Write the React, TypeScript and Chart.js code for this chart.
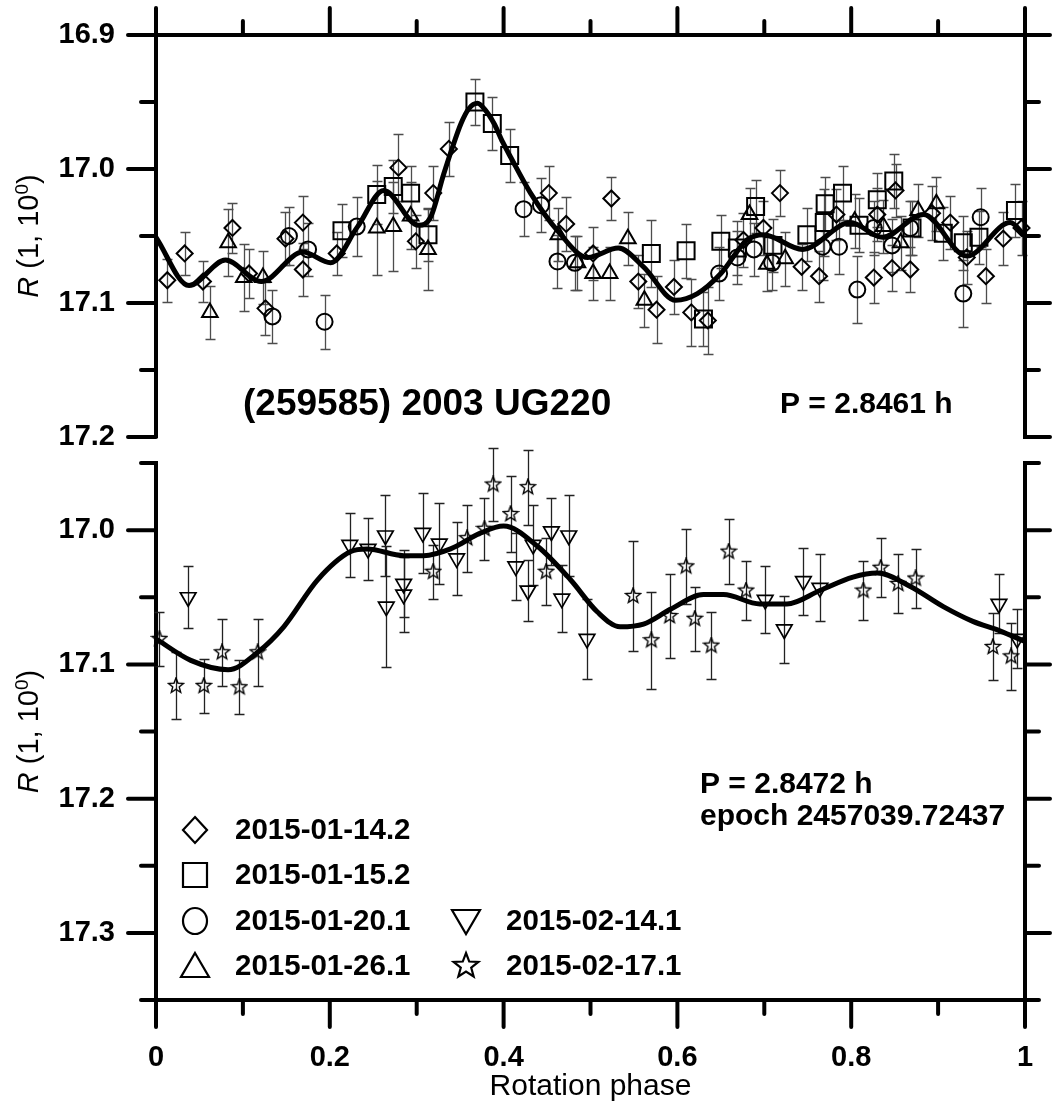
import React, { useEffect, useRef } from 'react';
import { Chart, registerables } from 'chart.js';
Chart.register(...registerables);

const W = 1053;
const H = 1111;
const FONT = "'Liberation Sans', Arial, Helvetica, sans-serif";

// ---------- legend / series names ----------
const seriesNames = ['2015-01-14.2', '2015-01-15.2', '2015-01-20.1', '2015-01-26.1', '2015-02-14.1', '2015-02-17.1'];

// ---------- top panel ----------
const d1Phase = [0.013,0.033,0.054,0.088,0.107,0.126,0.149,0.169,0.169,0.208,0.279,0.299,0.319,0.337,0.452,0.472,0.503,0.524,0.555,0.576,0.596,0.616,0.635,0.676,0.699,0.718,0.743,0.763,0.783,0.826,0.830,0.847,0.851,0.868,0.893,0.914,0.933,0.955,0.975,0.996];
const d1Mag = [17.083,17.063,17.084,17.044,17.078,17.104,17.052,17.040,17.075,17.063,16.999,17.054,17.018,16.985,17.018,17.041,17.063,17.022,17.084,17.105,17.088,17.107,17.113,17.053,17.044,17.018,17.073,17.080,17.034,17.081,17.034,17.074,17.016,17.075,17.033,17.040,17.066,17.080,17.052,17.044];
const d1Err = [0.016,0.016,0.015,0.019,0.018,0.02,0.02,0.02,0.02,0.016,0.025,0.02,0.02,0.02,0.02,0.02,0.02,0.016,0.02,0.025,0.02,0.025,0.025,0.02,0.02,0.017,0.017,0.019,0.019,0.019,0.02,0.017,0.02,0.017,0.02,0.02,0.02,0.02,0.02,0.02];

const d2Phase = [0.214,0.254,0.273,0.293,0.313,0.367,0.387,0.407,0.570,0.610,0.630,0.650,0.669,0.690,0.710,0.749,0.769,0.770,0.790,0.809,0.830,0.849,0.870,0.906,0.929,0.947,0.989];
const d2Mag = [17.046,17.019,17.013,17.018,17.049,16.950,16.966,16.990,17.063,17.061,17.112,17.054,17.059,17.028,17.057,17.049,17.040,17.026,17.018,17.042,17.023,17.009,17.044,17.048,17.055,17.051,17.031];
const d2Err = [0.02,0.022,0.02,0.02,0.02,0.017,0.02,0.02,0.025,0.02,0.02,0.02,0.02,0.02,0.02,0.02,0.025,0.02,0.02,0.02,0.02,0.02,0.02,0.02,0.02,0.02,0.02];

const d3Phase = [0.134,0.153,0.175,0.194,0.231,0.423,0.443,0.462,0.482,0.648,0.669,0.688,0.709,0.767,0.786,0.807,0.826,0.847,0.868,0.929,0.949];
const d3Mag = [17.110,17.050,17.060,17.114,17.043,17.030,17.027,17.069,17.070,17.078,17.066,17.060,17.070,17.058,17.058,17.090,17.044,17.057,17.044,17.093,17.036];
const d3Err = [0.02,0.022,0.02,0.02,0.022,0.02,0.02,0.02,0.02,0.02,0.02,0.02,0.02,0.025,0.02,0.025,0.02,0.02,0.02,0.025,0.022];

const d4Phase = [0.062,0.083,0.101,0.123,0.254,0.273,0.293,0.313,0.463,0.485,0.503,0.522,0.543,0.562,0.683,0.703,0.724,0.804,0.837,0.857,0.877,0.898];
const d4Mag = [17.107,17.055,17.081,17.081,17.044,17.043,17.035,17.060,17.049,17.070,17.078,17.078,17.052,17.098,17.034,17.071,17.067,17.039,17.043,17.055,17.031,17.026];
const d4Err = [0.02,0.025,0.025,0.02,0.035,0.033,0.025,0.03,0.02,0.02,0.02,0.02,0.02,0.02,0.02,0.02,0.02,0.02,0.02,0.02,0.02,0.02];

const fitTopPhase = [0,0.038,0.080,0.121,0.169,0.201,0.232,0.262,0.302,0.316,0.331,0.340,0.351,0.360,0.370,0.379,0.389,0.399,0.408,0.431,0.462,0.497,0.532,0.561,0.598,0.623,0.650,0.680,0.699,0.744,0.799,0.836,0.883,0.933,0.983,1.0];
const fitTopMag = [17.051,17.087,17.068,17.084,17.062,17.070,17.043,17.016,17.042,17.036,17.004,16.986,16.966,16.955,16.951,16.956,16.966,16.980,16.991,17.018,17.046,17.066,17.059,17.073,17.098,17.093,17.078,17.053,17.049,17.060,17.040,17.051,17.034,17.065,17.040,17.050];

// ---------- bottom panel ----------
const d5Phase = [0.037,0.223,0.244,0.264,0.265,0.285,0.285,0.307,0.326,0.346,0.414,0.428,0.434,0.455,0.467,0.475,0.496,0.701,0.723,0.745,0.764,0.970,0.991];
const d5Mag = [17.050,17.011,17.014,17.004,17.057,17.040,17.048,17.002,17.010,17.021,17.027,17.045,17.011,17.001,17.051,17.004,17.081,17.052,17.074,17.038,17.043,17.055,17.081];
const d5Err = [0.023,0.024,0.023,0.03,0.045,0.025,0.028,0.03,0.03,0.027,0.025,0.023,0.03,0.025,0.025,0.03,0.03,0.025,0.025,0.025,0.025,0.022,0.022];

const d6Phase = [0.004,0.023,0.055,0.076,0.096,0.117,0.319,0.358,0.378,0.388,0.408,0.428,0.449,0.549,0.570,0.591,0.610,0.620,0.639,0.659,0.679,0.814,0.834,0.854,0.874,0.963,0.984];
const d6Mag = [17.081,17.116,17.116,17.091,17.117,17.091,17.031,17.006,16.999,16.966,16.988,16.968,17.031,17.049,17.082,17.064,17.027,17.066,17.086,17.016,17.045,17.045,17.028,17.040,17.036,17.087,17.094];
const d6Err = [0.02,0.025,0.02,0.025,0.02,0.025,0.02,0.025,0.023,0.027,0.028,0.028,0.025,0.041,0.036,0.031,0.028,0.024,0.025,0.024,0.022,0.022,0.022,0.022,0.022,0.025,0.025];

const fitBotPhase = [0,0.040,0.083,0.117,0.147,0.186,0.224,0.243,0.285,0.308,0.339,0.374,0.400,0.439,0.477,0.508,0.534,0.561,0.592,0.630,0.653,0.695,0.726,0.764,0.802,0.830,0.868,0.906,0.940,0.971,1.0];
const fitBotMag = [17.081,17.097,17.104,17.091,17.072,17.037,17.016,17.014,17.019,17.019,17.014,17.002,16.997,17.012,17.037,17.061,17.072,17.070,17.059,17.048,17.048,17.055,17.055,17.045,17.035,17.032,17.042,17.057,17.068,17.075,17.083];

// ---------- ticks ----------
const xTickValues = [0,0.1,0.2,0.3,0.4,0.5,0.6,0.7,0.8,0.9,1];
const xTickLabels = ['0','','0.2','','0.4','','0.6','','0.8','','1'];
const yTopTickValues = [16.9,16.95,17.0,17.05,17.1,17.15,17.2];
const yTopTickLabels = ['16.9','','17.0','','17.1','','17.2'];
const yBotTickValues = [16.95,17.0,17.05,17.1,17.15,17.2,17.25,17.3,17.35];
const yBotTickLabels = ['','17.0','','17.1','','17.2','','17.3',''];

// ---------- helpers ----------
const toPts = (xs: number[], ys: number[]) => xs.map((x, i) => ({ x, y: ys[i] }));

function starPath(ctx: CanvasRenderingContext2D, cx: number, cy: number, R: number, r: number) {
  ctx.beginPath();
  for (let k = 0; k < 10; k++) {
    const ang = -Math.PI / 2 + (k * Math.PI) / 5;
    const rr = k % 2 === 0 ? R : r;
    const px = cx + rr * Math.cos(ang);
    const py = cy + rr * Math.sin(ang);
    if (k === 0) ctx.moveTo(px, py); else ctx.lineTo(px, py);
  }
  ctx.closePath();
}

function makeStar(size: number, R: number, r: number, lw: number) {
  const c = document.createElement('canvas');
  c.width = size; c.height = size;
  const g = c.getContext('2d')!;
  g.strokeStyle = '#000';
  g.lineWidth = lw;
  g.lineJoin = 'miter';
  starPath(g, size / 2, size / 2, R, r);
  g.stroke();
  return c;
}

const errorBarPlugin = {
  id: 'errbars',
  beforeDatasetsDraw(chart: any) {
    const { ctx } = chart;
    const xs = chart.scales.x, ys = chart.scales.y;
    chart.data.datasets.forEach((ds: any) => {
      if (!ds.errors) return;
      ctx.save();
      ctx.strokeStyle = ds.errorColor || '#444';
      ctx.lineWidth = 1.3;
      ds.data.forEach((p: any, i: number) => {
        const e = ds.errors[i] ?? 0.02;
        const x = Math.round(xs.getPixelForValue(p.x)) + 0.5;
        const y1 = Math.round(ys.getPixelForValue(p.y - e)) + 0.5;
        const y2 = Math.round(ys.getPixelForValue(p.y + e)) + 0.5;
        ctx.beginPath();
        ctx.moveTo(x, y1); ctx.lineTo(x, y2);
        ctx.moveTo(x - 5, y1); ctx.lineTo(x + 5, y1);
        ctx.moveTo(x - 5, y2); ctx.lineTo(x + 5, y2);
        ctx.stroke();
      });
      ctx.restore();
    });
  },
};

function axisTicksPlugin(xSide: 'top' | 'bottom', yLabels: string[]) {
  return {
    id: 'axisTicks',
    afterDraw(chart: any) {
      const { ctx, chartArea: a } = chart;
      const xs = chart.scales.x, ys = chart.scales.y;
      ctx.save();
      ctx.strokeStyle = '#000';
      ctx.lineWidth = 4;
      // right axis line
      ctx.lineCap = 'butt';
      ctx.beginPath();
      ctx.moveTo(a.right, a.top - 2);
      ctx.lineTo(a.right, a.bottom + 2);
      ctx.stroke();
      ctx.lineCap = 'round';
      ys.ticks.forEach((t: any, i: number) => {
        const major = yLabels[i] !== '';
        const y = ys.getPixelForValue(t.value);
        ctx.beginPath();
        ctx.moveTo(a.left - (major ? 28 : 15), y); ctx.lineTo(a.left, y);
        ctx.moveTo(a.right, y); ctx.lineTo(a.right + (major ? 25 : 14), y);
        ctx.stroke();
      });
      xs.ticks.forEach((t: any, i: number) => {
        const major = xTickLabels[i] !== '';
        const x = xs.getPixelForValue(t.value);
        const len = major ? 27 : 14;
        ctx.beginPath();
        if (xSide === 'top') { ctx.moveTo(x, a.top); ctx.lineTo(x, a.top - len); }
        else { ctx.moveTo(x, a.bottom); ctx.lineTo(x, a.bottom + len); }
        ctx.stroke();
      });
      ctx.restore();
    },
  };
}

const yTitlePlugin = {
  id: 'ytitle',
  afterDraw(chart: any) {
    const { ctx, chartArea: a } = chart;
    const cx = 28, cy = (a.top + a.bottom) / 2;
    const parts = [
      { t: 'R', f: `italic 29px ${FONT}`, dy: 0 },
      { t: ' (1, 10', f: `29px ${FONT}`, dy: 0 },
      { t: '0', f: `19px ${FONT}`, dy: -10 },
      { t: ')', f: `29px ${FONT}`, dy: 0 },
    ];
    ctx.save();
    let total = 0;
    const widths = parts.map((p) => { ctx.font = p.f; const w = ctx.measureText(p.t).width; total += w; return w; });
    ctx.translate(cx, cy);
    ctx.rotate(-Math.PI / 2);
    ctx.fillStyle = '#000';
    ctx.textBaseline = 'alphabetic';
    ctx.textAlign = 'left';
    let x = -total / 2;
    parts.forEach((p, i) => {
      ctx.font = p.f;
      ctx.fillText(p.t, x, 10 + p.dy);
      x += widths[i];
    });
    ctx.restore();
  },
};

function textPlugin(items: { t: string; x: number; y: number; size: number }[]) {
  return {
    id: 'texts',
    afterDraw(chart: any) {
      const { ctx } = chart;
      ctx.save();
      ctx.fillStyle = '#000';
      ctx.textBaseline = 'middle';
      ctx.textAlign = 'left';
      items.forEach((it) => {
        ctx.font = `bold ${it.size}px ${FONT}`;
        ctx.fillText(it.t, it.x, it.y);
      });
      ctx.restore();
    },
  };
}

const legendPlugin = {
  id: 'customLegend',
  afterDraw(chart: any) {
    const { ctx } = chart;
    const entries = [
      { i: 0, col: 0, row: 0, s: 'diamond' },
      { i: 1, col: 0, row: 1, s: 'square' },
      { i: 2, col: 0, row: 2, s: 'circle' },
      { i: 3, col: 0, row: 3, s: 'triangle' },
      { i: 4, col: 1, row: 2, s: 'down' },
      { i: 5, col: 1, row: 3, s: 'star' },
    ];
    const colSym = [195, 466];
    const colText = [235, 506];
    const rowY = [830, 875, 921, 966];
    ctx.save();
    ctx.strokeStyle = '#000';
    ctx.fillStyle = '#000';
    ctx.lineWidth = 2.2;
    entries.forEach((e) => {
      const x = colSym[e.col], y = rowY[e.row];
      ctx.beginPath();
      if (e.s === 'diamond') {
        ctx.moveTo(x, y - 13); ctx.lineTo(x + 12, y); ctx.lineTo(x, y + 13); ctx.lineTo(x - 12, y); ctx.closePath();
      } else if (e.s === 'square') {
        ctx.rect(x - 12, y - 12, 24, 24);
      } else if (e.s === 'circle') {
        ctx.ellipse(x, y, 12, 13, 0, 0, Math.PI * 2);
      } else if (e.s === 'triangle') {
        ctx.moveTo(x, y - 13); ctx.lineTo(x + 14, y + 11); ctx.lineTo(x - 14, y + 11); ctx.closePath();
      } else if (e.s === 'down') {
        ctx.moveTo(x - 14, y - 11); ctx.lineTo(x + 14, y - 11); ctx.lineTo(x, y + 13); ctx.closePath();
      } else {
        starPath(ctx, x, y, 13, 5.5);
      }
      ctx.stroke();
      ctx.font = `bold 29.5px ${FONT}`;
      ctx.textBaseline = 'middle';
      ctx.textAlign = 'left';
      ctx.fillText(seriesNames[e.i], colText[e.col], y + 1);
    });
    ctx.restore();
  },
};

const tickFont = { family: FONT, size: 29, weight: 'bold' as const };
// invisible tick marks used only to offset labels from the axis
const spacerGrid = (len: number) => ({
  display: true, drawOnChartArea: false, drawTicks: true, tickLength: len,
  color: 'rgba(0,0,0,0)', tickColor: 'rgba(0,0,0,0)', lineWidth: 1,
});

function baseMarker(label: string, xs: number[], ys: number[], errs: number[], style: any, radius: number, errColor: string, extra: any = {}) {
  return {
    type: 'scatter',
    label,
    data: toPts(xs, ys),
    errors: errs,
    errorColor: errColor,
    pointStyle: style,
    pointRadius: radius,
    pointHoverRadius: radius,
    pointBorderColor: '#000',
    pointBackgroundColor: 'rgba(0,0,0,0)',
    pointBorderWidth: 2,
    borderColor: '#000',
    backgroundColor: 'rgba(0,0,0,0)',
    showLine: false,
    clip: false,
    order: 2,
    ...extra,
  };
}

export default function App() {
  const topRef = useRef<HTMLCanvasElement>(null);
  const botRef = useRef<HTMLCanvasElement>(null);

  useEffect(() => {
    const starImg = makeStar(18, 8, 3.4, 1.4);

    const topChart = new Chart(topRef.current as HTMLCanvasElement, {
      type: 'scatter',
      data: {
        datasets: [
          {
            type: 'line', label: 'fit', data: toPts(fitTopPhase, fitTopMag),
            borderColor: '#000', borderWidth: 5, pointRadius: 0, fill: false,
            cubicInterpolationMode: 'monotone', order: 0,
          } as any,
          baseMarker(seriesNames[0], d1Phase, d1Mag, d1Err, 'rectRot', 8, '#4d4d4d'),
          baseMarker(seriesNames[1], d2Phase, d2Mag, d2Err, 'rect', 12, '#4d4d4d'),
          baseMarker(seriesNames[2], d3Phase, d3Mag, d3Err, 'circle', 8, '#4d4d4d'),
          baseMarker(seriesNames[3], d4Phase, d4Mag, d4Err, 'triangle', 9, '#4d4d4d'),
        ] as any,
      },
      options: {
        responsive: false,
        animation: false,
        devicePixelRatio: 1,
        events: [],
        layout: { autoPadding: false, padding: { left: 0, right: 28, top: 0, bottom: H - 437 } },
        plugins: { legend: { display: false }, tooltip: { enabled: false } },
        scales: {
          x: {
            type: 'linear', position: 'top', min: 0, max: 1,
            afterFit: (s: any) => { s.height = 35; },
            afterBuildTicks: (s: any) => { s.ticks = xTickValues.map((v) => ({ value: v })); },
            ticks: { display: false, autoSkip: false, padding: 0, callback: (_v: any, i: number) => xTickLabels[i] },
            grid: { display: false, drawTicks: false },
            border: { display: true, width: 4, color: '#000' },
          },
          y: {
            type: 'linear', position: 'left', reverse: true, min: 16.9, max: 17.2,
            afterFit: (s: any) => { s.width = 156; },
            afterBuildTicks: (s: any) => { s.ticks = yTopTickValues.map((v) => ({ value: v })); },
            ticks: { autoSkip: false, padding: 0, color: '#000', font: tickFont, callback: (_v: any, i: number) => yTopTickLabels[i] },
            grid: spacerGrid(41),
            border: { display: true, width: 4, color: '#000' },
          },
        },
      } as any,
      plugins: [
        errorBarPlugin,
        axisTicksPlugin('top', yTopTickLabels),
        yTitlePlugin,
        textPlugin([
          { t: '(259585) 2003 UG220', x: 243, y: 405, size: 37 },
          { t: 'P = 2.8461 h', x: 780, y: 405, size: 30 },
        ]),
      ],
    });

    const botChart = new Chart(botRef.current as HTMLCanvasElement, {
      type: 'scatter',
      data: {
        datasets: [
          {
            type: 'line', label: 'fit', data: toPts(fitBotPhase, fitBotMag),
            borderColor: '#000', borderWidth: 5, pointRadius: 0, fill: false,
            cubicInterpolationMode: 'monotone', order: 0,
          } as any,
          baseMarker(seriesNames[4], d5Phase, d5Mag, d5Err, 'triangle', 9, '#222', { pointRotation: 180, pointBorderWidth: 1.7 }),
          baseMarker(seriesNames[5], d6Phase, d6Mag, d6Err, starImg, 8, '#222'),
        ] as any,
      },
      options: {
        responsive: false,
        animation: false,
        devicePixelRatio: 1,
        events: [],
        layout: { autoPadding: false, padding: { left: 0, right: 28, top: 463, bottom: 0 } },
        plugins: { legend: { display: false }, tooltip: { enabled: false } },
        scales: {
          x: {
            type: 'linear', position: 'bottom', min: 0, max: 1,
            afterFit: (s: any) => { s.height = H - 1000; },
            afterBuildTicks: (s: any) => { s.ticks = xTickValues.map((v) => ({ value: v })); },
            ticks: { autoSkip: false, maxRotation: 0, padding: 0, color: '#000', font: tickFont, callback: (_v: any, i: number) => xTickLabels[i] },
            grid: spacerGrid(41),
            border: { display: true, width: 4, color: '#000' },
            title: { display: true, text: 'Rotation phase', color: '#000', font: { family: FONT, size: 30 }, padding: { top: 0, bottom: 6 } },
          },
          y: {
            type: 'linear', position: 'left', reverse: true, min: 16.95, max: 17.35,
            afterFit: (s: any) => { s.width = 156; },
            afterBuildTicks: (s: any) => { s.ticks = yBotTickValues.map((v) => ({ value: v })); },
            ticks: { autoSkip: false, padding: 0, color: '#000', font: tickFont, callback: (_v: any, i: number) => yBotTickLabels[i] },
            grid: spacerGrid(41),
            border: { display: true, width: 4, color: '#000' },
          },
        },
      } as any,
      plugins: [
        errorBarPlugin,
        axisTicksPlugin('bottom', yBotTickLabels),
        yTitlePlugin,
        legendPlugin,
        textPlugin([
          { t: 'P = 2.8472 h', x: 700, y: 785, size: 30 },
          { t: 'epoch 2457039.72437', x: 700, y: 817, size: 30 },
        ]),
      ],
    });

    return () => {
      topChart.destroy();
      botChart.destroy();
    };
  }, []);

  return (
    <div style={{ position: 'absolute', left: 0, top: 0, width: W, height: H, background: '#fff' }}>
      <canvas ref={botRef} width={W} height={H} style={{ position: 'absolute', left: 0, top: 0, width: W, height: H }} />
      <canvas ref={topRef} width={W} height={H} style={{ position: 'absolute', left: 0, top: 0, width: W, height: H }} />
    </div>
  );
}
